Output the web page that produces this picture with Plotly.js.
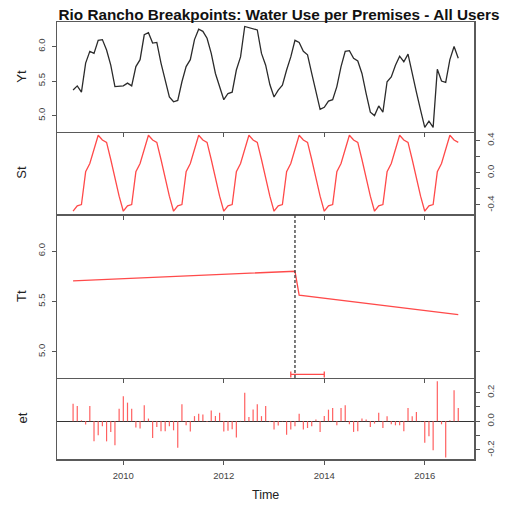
<!DOCTYPE html>
<html>
<head>
<meta charset="utf-8">
<script src="https://cdn.plot.ly/plotly-3.0.1.min.js"></script>
<style>html,body{margin:0;padding:0;background:#fff;}#chart{width:512px;height:506px;}</style>
</head>
<body>
<div id="chart"></div>
<script>
// ---- data (monthly, Jan 2009 .. Sep 2016) ----
const startYear = 2009;
const Yt = [5.37,5.43,5.34,5.76,5.93,5.90,6.09,6.10,5.95,5.73,5.42,5.43,
            5.43,5.47,5.43,5.71,5.81,6.17,6.20,6.05,6.06,5.76,5.51,5.27,
            5.20,5.22,5.49,5.71,5.81,6.10,6.25,6.22,6.12,5.90,5.61,5.42,
            5.23,5.32,5.34,5.66,5.85,6.29,6.27,6.25,6.24,5.90,5.73,5.45,
            5.27,5.37,5.44,5.66,5.85,6.09,6.06,5.93,5.88,5.61,5.37,5.09,
            5.12,5.21,5.23,5.42,5.71,5.93,5.94,5.83,5.79,5.61,5.32,5.05,
            5.00,5.14,5.05,5.49,5.56,5.73,5.86,5.78,5.89,5.59,5.34,5.08,
            4.83,4.92,4.83,5.67,5.50,5.48,5.81,6.00,5.83];
const St = [-0.477,-0.41,-0.394,0.012,0.116,0.28,0.465,0.406,0.377,0.165,-0.07,-0.29,
            -0.477,-0.41,-0.394,0.012,0.116,0.28,0.465,0.406,0.377,0.165,-0.07,-0.29,
            -0.477,-0.41,-0.394,0.012,0.116,0.28,0.465,0.406,0.377,0.165,-0.07,-0.29,
            -0.477,-0.41,-0.394,0.012,0.116,0.28,0.465,0.406,0.377,0.165,-0.07,-0.29,
            -0.477,-0.41,-0.394,0.012,0.116,0.28,0.465,0.406,0.377,0.165,-0.07,-0.29,
            -0.477,-0.41,-0.394,0.012,0.116,0.28,0.465,0.406,0.377,0.165,-0.07,-0.29,
            -0.477,-0.41,-0.394,0.012,0.116,0.28,0.465,0.406,0.377,0.165,-0.07,-0.29,
            -0.477,-0.41,-0.394,0.012,0.116,0.28,0.465,0.406,0.377];
const trendMonths = [0, 53, 54, 92];
const trendValues = [5.705, 5.80, 5.563, 5.37];
const breakMonth = 53;
const ciMonths = [52, 60];
const ciLevel = 4.775;
const et = [0.123,0.107,0.007,-0.023,0.107,-0.14,-0.098,-0.035,-0.14,-0.074,-0.167,0.088,
            0.174,0.13,0.088,-0.044,-0.051,0.112,0.019,-0.116,-0.04,-0.07,-0.07,-0.035,
            -0.063,-0.184,0.118,-0.028,-0.072,0.036,0.053,0.048,-0.005,0.075,0.037,0.06,
            -0.072,-0.066,-0.055,-0.113,0.003,0.199,0.03,0.082,0.118,0.036,0.107,-0.005,
            -0.057,-0.03,0.002,-0.094,-0.058,-0.034,0.053,-0.057,-0.047,-0.034,0.013,-0.074,
            0.037,0.081,0.093,-0.028,0.093,0.112,-0.021,-0.074,-0.07,0.019,0.012,-0.04,
            -0.016,0.06,-0.047,0.035,-0.021,-0.028,-0.028,-0.07,0.093,0.035,0.065,0.002,
            -0.149,-0.105,-0.202,0.279,-0.021,-0.253,0.007,0.216,0.093];
const xTickVals = [2010, 2012, 2014, 2016];

// ---- build ----
const toTime = m => startYear + m / 12;
const t = Yt.map((_, i) => toTime(i));
const tBreak = toTime(breakMonth);

// vertical "h"-type spikes for the remainder: segments from 0 to each value
const etX = [], etY = [];
et.forEach((v, i) => { etX.push(t[i], t[i], null); etY.push(0, v, null); });

const RED = '#ff4a4a';
const traces = [
  {x: t, y: Yt, type: 'scatter', mode: 'lines', line: {color: '#2b2b2b', width: 1.3}, xaxis: 'x', yaxis: 'y', hoverinfo: 'skip'},
  {x: t, y: St, type: 'scatter', mode: 'lines', line: {color: RED, width: 1.3}, xaxis: 'x2', yaxis: 'y2', hoverinfo: 'skip'},
  {x: trendMonths.map(toTime), y: trendValues, type: 'scatter', mode: 'lines', line: {color: RED, width: 1.3}, xaxis: 'x3', yaxis: 'y3', hoverinfo: 'skip'},
  {x: [tBreak], y: [ciLevel], type: 'scatter', mode: 'markers', marker: {size: 1, color: 'rgba(0,0,0,0)'},
   error_x: {type: 'data', symmetric: false, array: [toTime(ciMonths[1]) - tBreak], arrayminus: [tBreak - toTime(ciMonths[0])],
             color: RED, thickness: 1.3, width: 3}, xaxis: 'x3', yaxis: 'y3', hoverinfo: 'skip'},
  {x: etX, y: etY, type: 'scatter', mode: 'lines', connectgaps: false, line: {color: '#ff6060', width: 1.2}, xaxis: 'x4', yaxis: 'y4', hoverinfo: 'skip'}
];

const fontFam = 'Liberation Sans, Arial, Helvetica, sans-serif';
const tickFont = {family: fontFam, size: 9.5, color: '#444'};
function xAx(anchor, labels, mirror) {
  return {anchor: anchor, range: [2008.68, 2016.98], showgrid: false, zeroline: false,
    showline: true, mirror: mirror, linecolor: '#5a5a5a', linewidth: 1.5,
    ticks: 'outside', ticklen: 4, tickwidth: 1, tickcolor: '#555', ticklabelstandoff: 3,
    tickvals: xTickVals, ticktext: xTickVals.map(String), showticklabels: labels, tickfont: tickFont};
}
function yAx(anchor, domain, range, side, vals, text, mirror) {
  return {anchor: anchor, domain: domain, range: range, side: side, showgrid: false, zeroline: false,
    showline: true, mirror: mirror, linecolor: '#5a5a5a', linewidth: 1.5,
    ticks: 'outside', ticklen: 4, tickwidth: 1, tickcolor: '#555', ticklabelstandoff: 3,
    tickvals: vals, ticktext: text, tickangle: -90, tickfont: tickFont};
}

const layout = {
  width: 512, height: 506,
  margin: {l: 57, r: 38, t: 22, b: 47, pad: 0},
  paper_bgcolor: '#fff', plot_bgcolor: '#fff',
  showlegend: false,
  title: {text: '<b>Rio Rancho Breakpoints: Water Use per Premises - All Users</b>',
          font: {family: fontFam, size: 15.3, color: '#111'},
          xref: 'container', x: 279 / 512, xanchor: 'center',
          yref: 'container', y: 1 - 14.5 / 506, yanchor: 'middle'},
  xaxis: xAx('y', false, true),
  xaxis2: xAx('y2', false, false),
  xaxis3: xAx('y3', false, false),
  xaxis4: xAx('y4', true, false),
  yaxis: yAx('x', [0.7494, 1], [4.77, 6.355], 'left', [5.0, 5.5, 6.0], ['5.0', '5.5', '6.0'], true),
  yaxis2: yAx('x2', [0.5606, 0.7494], [-0.512, 0.512], 'right', [-0.4, -0.2, 0, 0.2, 0.4], ['-0.4', '', '0.0', '', '0.4'], true),
  yaxis3: yAx('x3', [0.1854, 0.5606], [4.74, 6.368], 'left', [5.0, 5.5, 6.0], ['5.0', '5.5', '6.0'], 'ticks'),
  yaxis4: Object.assign(yAx('x4', [0, 0.1854], [-0.263, 0.302], 'right', [-0.2, -0.1, 0, 0.1, 0.2], ['-0.2', '', '0.0', '', '0.2'], true),
                        {zeroline: true, zerolinecolor: '#333', zerolinewidth: 1.3}),
  shapes: [
    {type: 'line', xref: 'x3', yref: 'y3 domain', x0: tBreak, x1: tBreak, y0: 0, y1: 1,
     line: {color: '#444', width: 1.4, dash: '3px,2px'}}
  ],
  annotations: [
    {text: 'Yt', xref: 'paper', yref: 'paper', x: -35 / 417, y: (0.7494 + 1) / 2, showarrow: false, textangle: -90, font: {family: fontFam, size: 13, color: '#222'}, xanchor: 'center', yanchor: 'middle'},
    {text: 'St', xref: 'paper', yref: 'paper', x: -35 / 417, y: (0.5606 + 0.7494) / 2, showarrow: false, textangle: -90, font: {family: fontFam, size: 13, color: '#222'}, xanchor: 'center', yanchor: 'middle'},
    {text: 'Tt', xref: 'paper', yref: 'paper', x: -35 / 417, y: (0.1854 + 0.5606) / 2, showarrow: false, textangle: -90, font: {family: fontFam, size: 13, color: '#222'}, xanchor: 'center', yanchor: 'middle'},
    {text: 'et', xref: 'paper', yref: 'paper', x: -35 / 417, y: 0.1854 / 2, showarrow: false, textangle: -90, font: {family: fontFam, size: 13, color: '#222'}, xanchor: 'center', yanchor: 'middle'},
    {text: 'Time', xref: 'paper', yref: 'paper', x: 0.5, y: -36 / 437, showarrow: false, font: {family: fontFam, size: 12.5, color: '#222'}, xanchor: 'center', yanchor: 'middle'}
  ]
};

Plotly.newPlot('chart', traces, layout, {staticPlot: true, displayModeBar: false});
</script>
</body>
</html>
